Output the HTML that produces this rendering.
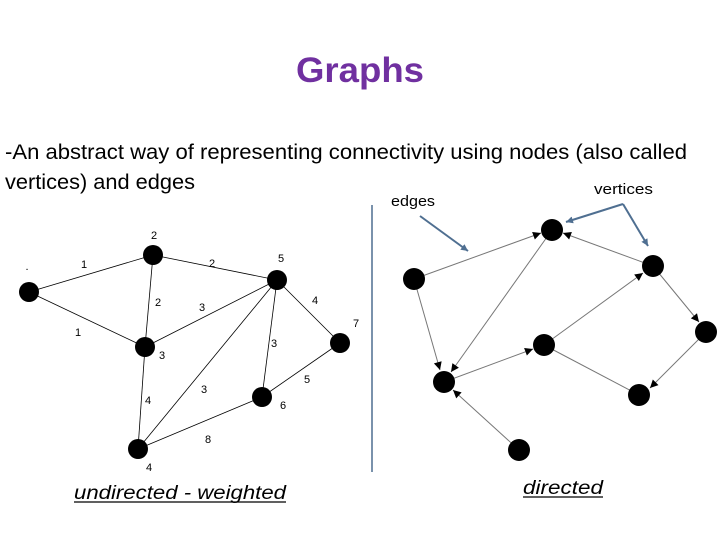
<!DOCTYPE html>
<html><head><meta charset="utf-8"><style>html,body{margin:0;padding:0;background:#fff}svg{display:block}</style></head>
<body>
<svg width="720" height="540" xmlns="http://www.w3.org/2000/svg" font-family="Liberation Sans, sans-serif">
<defs>
<marker id="ah" viewBox="0 0 10 10" refX="10" refY="5" markerWidth="9" markerHeight="8" markerUnits="userSpaceOnUse" orient="auto"><path d="M0,0L10,5L0,10z" fill="#000"/></marker>
<marker id="ab" viewBox="0 0 10 10" refX="10" refY="5" markerWidth="7" markerHeight="7" markerUnits="userSpaceOnUse" orient="auto"><path d="M0,0L10,5L0,10z" fill="#4f6f91"/></marker>
</defs>
<text x="360" y="82" text-anchor="middle" font-size="35" font-weight="bold" fill="#7030A0" textLength="128" lengthAdjust="spacingAndGlyphs">Graphs</text>
<text x="5" y="159" font-size="21" fill="#000" textLength="682" lengthAdjust="spacingAndGlyphs">-An abstract way of representing connectivity using nodes (also called</text>
<text x="5" y="189" font-size="21" fill="#000" textLength="190" lengthAdjust="spacingAndGlyphs">vertices) and edges</text>
<text x="391" y="206" font-size="15" textLength="44" lengthAdjust="spacingAndGlyphs">edges</text>
<text x="594" y="194" font-size="15" textLength="59" lengthAdjust="spacingAndGlyphs">vertices</text>
<line x1="372" y1="205" x2="372" y2="472" stroke="#4f6f91" stroke-width="1.5"/>
<!-- left graph -->
<g stroke="#000" stroke-width="0.8">
<line x1="29" y1="292" x2="153" y2="255"/>
<line x1="29" y1="292" x2="145" y2="347"/>
<line x1="153" y1="255" x2="277" y2="280"/>
<line x1="153" y1="255" x2="145" y2="347"/>
<line x1="277" y1="280" x2="145" y2="347"/>
<line x1="277" y1="280" x2="340" y2="343"/>
<line x1="277" y1="280" x2="262" y2="397"/>
<line x1="277" y1="280" x2="138" y2="449"/>
<line x1="340" y1="343" x2="262" y2="397"/>
<line x1="145" y1="347" x2="138" y2="449"/>
<line x1="262" y1="397" x2="138" y2="449"/>
</g>
<g fill="#000">
<circle cx="29" cy="292" r="10"/><circle cx="153" cy="255" r="10"/><circle cx="277" cy="280" r="10"/>
<circle cx="145" cy="347" r="10"/><circle cx="340" cy="343" r="10"/><circle cx="262" cy="397" r="10"/><circle cx="138" cy="449" r="10"/>
</g>
<g font-size="11" fill="#000" text-anchor="middle">
<text x="27" y="270">.</text>
<text x="154" y="239">2</text><text x="84" y="268">1</text><text x="212" y="267">2</text><text x="281" y="262">5</text>
<text x="158" y="306">2</text><text x="202" y="311">3</text><text x="315" y="304">4</text><text x="356" y="327">7</text>
<text x="78" y="336">1</text><text x="162" y="359">3</text><text x="274" y="347">3</text><text x="307" y="383">5</text>
<text x="204" y="393">3</text><text x="148" y="404">4</text><text x="283" y="409">6</text><text x="208" y="443">8</text><text x="149" y="471">4</text>
</g>
<!-- right graph -->
<g stroke="#777" stroke-width="1">
<line x1="414" y1="279" x2="541" y2="233" marker-end="url(#ah)"/>
<line x1="552" y1="230" x2="451" y2="372" marker-end="url(#ah)"/>
<line x1="653" y1="266" x2="563" y2="233" marker-end="url(#ah)"/>
<line x1="414" y1="279" x2="440" y2="370" marker-end="url(#ah)"/>
<line x1="444" y1="382" x2="533" y2="349" marker-end="url(#ah)"/>
<line x1="544" y1="345" x2="643" y2="273" marker-end="url(#ah)"/>
<line x1="653" y1="266" x2="699" y2="322" marker-end="url(#ah)"/>
<line x1="706" y1="332" x2="650" y2="388" marker-end="url(#ah)"/>
<line x1="544" y1="345" x2="639" y2="395"/>
<line x1="519" y1="450" x2="453" y2="390" marker-end="url(#ah)"/>
</g>
<g fill="#000">
<circle cx="552" cy="230" r="11"/><circle cx="414" cy="279" r="11"/><circle cx="653" cy="266" r="11"/>
<circle cx="706" cy="332" r="11"/><circle cx="544" cy="345" r="11"/><circle cx="444" cy="382" r="11"/>
<circle cx="639" cy="395" r="11"/><circle cx="519" cy="450" r="11"/>
</g>
<g stroke="#4f6f91" stroke-width="2" fill="none">
<line x1="420" y1="216" x2="468" y2="251" marker-end="url(#ab)"/>
<line x1="623" y1="204" x2="566" y2="222" marker-end="url(#ab)"/>
<line x1="623" y1="204" x2="648" y2="246" marker-end="url(#ab)"/>
</g>
<text x="74" y="499" font-size="19" font-style="italic" textLength="212" lengthAdjust="spacingAndGlyphs">undirected - weighted</text>
<line x1="74" y1="502" x2="286" y2="502" stroke="#000" stroke-width="1.3"/>
<text x="523" y="494" font-size="19" font-style="italic" textLength="80" lengthAdjust="spacingAndGlyphs">directed</text>
<line x1="523" y1="497" x2="603" y2="497" stroke="#000" stroke-width="1.3"/>
</svg>
</body></html>
